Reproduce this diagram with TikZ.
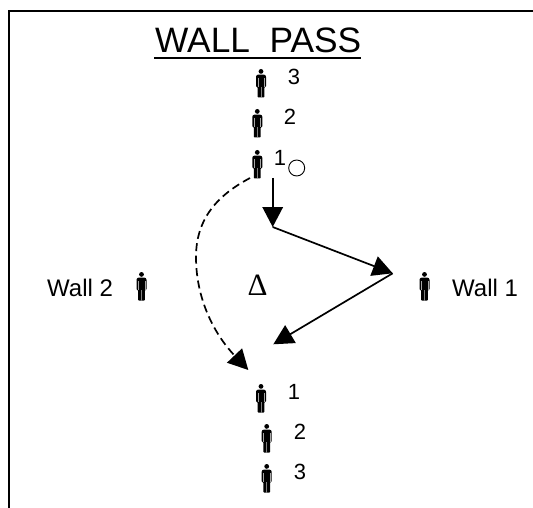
\documentclass[tikz,border=0pt]{standalone}
\usepackage{fontspec}
\setmainfont{Liberation Sans}
\newfontfamily\deltafont{Liberation Serif}
\usetikzlibrary{arrows.meta}
\tikzset{
  x=1pt,y=-1pt,
  frameline/.style={line width=2.2pt,line cap=butt},
  numlabel/.style={inner sep=0pt,anchor=center,font=\fontsize{22}{26}\selectfont},
  walllabel/.style={inner sep=0pt,anchor=base west,font=\fontsize{24}{28}\selectfont},
  titlelabel/.style={inner sep=0pt,anchor=base west,font=\fontsize{35.3}{40}\selectfont},
  pass/.style={line width=1.7pt,-{Triangle[length=20pt,width=20.5pt]}},
  run/.style={line width=1.7pt,dash pattern=on 8pt off 4.5pt,-{Triangle[length=20pt,width=20.5pt]}},
  person/.pic={
    \fill[black] (0,2.4) circle[radius=2.4];
    \fill[black,rounded corners=0.8pt] (-3.6,5.6) -- (-5,7) -- (-5,18) -- (-3.4,18) -- (-3.4,28.5) -- (3.4,28.5) -- (3.4,18) -- (5,18) -- (5,7) -- (3.6,5.6) -- cycle;
    \draw[gray,line width=0.7pt] (0,18) -- (0,28.5);
    \draw[gray!70,line width=0.35pt] (-3.3,9) -- (-3.3,18) (3.3,9) -- (3.3,18);
  }
}
\begin{document}
\begin{tikzpicture}
\useasboundingbox (0,0) rectangle (533,508);
% frame (top and left edges only)
\coordinate (ftl) at (9,11);
\coordinate (ftr) at (533,11);
\coordinate (fbl) at (9,508);
\draw[frameline] (ftr) -- (ftl) -- (fbl);
% title
\node[titlelabel] (title) at (155,53) {WALL\ \ PASS};
\coordinate (ul) at (154,58);
\coordinate (ur) at (361,58);
\draw[line width=2.4pt] (ul) -- (ur);
% upper queue
\pic at (261,69) {person};
\pic at (257.3,109) {person};
\pic at (257.3,150) {person};
\node[numlabel] (u3) at (294,77) {3};
\node[numlabel] (u2) at (290,117) {2};
\node[numlabel] (u1) at (280,158) {1};
\node[draw,circle,line width=0.9pt,minimum size=16pt,inner sep=0pt] (ball) at (296.7,168) {};
% walls
\node[walllabel] (w2) at (47,296.5) {Wall 2};
\pic at (141.5,272) {person};
\pic at (424.5,272) {person};
\node[walllabel] (w1) at (452,296.5) {Wall 1};
\node[inner sep=0pt,anchor=center,font=\deltafont\fontsize{31}{36}\selectfont] (delta) at (257.5,285) {Δ};
% lower queue
\pic at (261,384) {person};
\pic at (266.7,424) {person};
\pic at (266.7,464) {person};
\node[numlabel] (l1) at (294,392) {1};
\node[numlabel] (l2) at (300,432) {2};
\node[numlabel] (l3) at (300,472) {3};
% connectors
\coordinate (a) at (272.7,178);
\coordinate (b) at (272.7,227);
\coordinate (c) at (392.7,273.3);
\coordinate (d) at (273.3,344.3);
\coordinate (e) at (250,178);
\coordinate (f) at (196,257);
\coordinate (g) at (248.3,370);
\draw[pass] (a) -- (b);
\draw[pass] (b) -- (c);
\draw[pass] (c) -- (d);
\draw[run] (e) .. controls (222,193) and (196,215) .. (f) .. controls (196,300) and (215,335) .. (g);
\end{tikzpicture}
\end{document}
